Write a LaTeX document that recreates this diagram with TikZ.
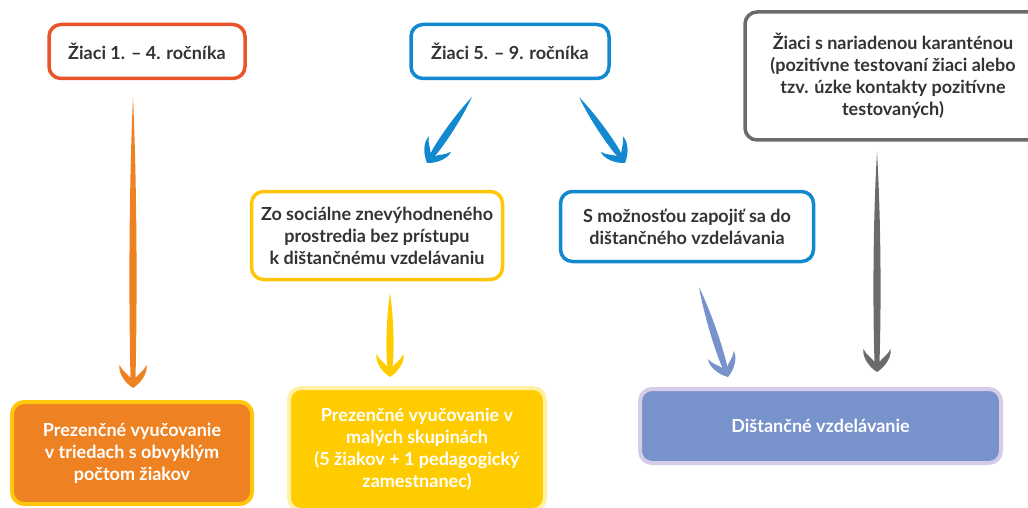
\documentclass[tikz,border=0pt]{standalone}
\usepackage{fontspec}
\setmainfont{Lato}
\usetikzlibrary{calc}

\definecolor{redorange}{HTML}{E9542B}
\definecolor{skyblue}{HTML}{1289CF}
\definecolor{darkgray}{HTML}{6B6B6B}
\definecolor{sunyellow}{HTML}{FFC60B}
\definecolor{fillorange}{HTML}{EE8222}
\definecolor{fillyellow}{HTML}{FFCC00}
\definecolor{paleyellow}{HTML}{FFF0A6}
\definecolor{fillblue}{HTML}{7892CB}
\definecolor{lavender}{HTML}{D5CDE8}
\definecolor{textgray}{HTML}{333333}

\tikzset{
  box/.style={rounded corners=12pt,line width=3.5pt,align=center,inner sep=0pt,
    font=\bfseries\fontsize{18}{22}\selectfont},
  outline/.style={box,fill=white,text=textgray},
  filled/.style={box,text=white,line width=4pt}
}

% brush arrow: colour, from, to
\newcommand{\brusharrow}[3]{%
  \path (#2); \pgfgetlastxy{\brXa}{\brYa}
  \path (#3); \pgfgetlastxy{\brXb}{\brYb}
  \pgfmathsetmacro\brAng{atan2(\brYb-\brYa,\brXb-\brXa)}
  \pgfmathsetmacro\brL{veclen(\brXb-\brXa,\brYb-\brYa)}
  \fill[#1,shift={(#2)},rotate=\brAng,x=1pt,y=1pt]
    (0,0) .. controls ({0.35*\brL},4.5) and ({0.75*\brL},4) .. ({\brL-10},2.5)
    .. controls ({\brL-14},5) and ({\brL-17},11) .. ({\brL-23},13.5)
    .. controls ({\brL-15},15) and ({\brL-5},8) .. (\brL,0)
    .. controls ({\brL-5},-8) and ({\brL-15},-15) .. ({\brL-23},-13.5)
    .. controls ({\brL-17},-11) and ({\brL-14},-5) .. ({\brL-10},-2.5)
    .. controls ({0.75*\brL},-4) and ({0.35*\brL},-4.5) .. (0,0) -- cycle;
}

\begin{document}
\begin{tikzpicture}[x=1pt,y=-1pt]
\useasboundingbox (0,0) rectangle (1028,508);
\clip (0,0) rectangle (1028,508);

% top row
\node[outline,draw=redorange,minimum width=196pt,minimum height=54pt] (g14) at (147,51.5) {Žiaci 1. – 4. ročníka};
\node[outline,draw=skyblue,minimum width=198pt,minimum height=54pt] (g59) at (510,51.5) {Žiaci 5. – 9. ročníka};
\node[outline,draw=darkgray,minimum width=296pt,minimum height=128pt] (quar) at (893,76)
  {Žiaci s nariadenou karanténou\\(pozitívne testovaní žiaci alebo\\tzv. úzke kontakty pozitívne\\testovaných)};

% middle row
\node[outline,draw=sunyellow,minimum width=251pt,minimum height=88pt] (social) at (377,235.5)
  {Zo sociálne znevýhodneného\\prostredia bez prístupu\\k dištančnému vzdelávaniu};
\node[outline,draw=skyblue,minimum width=253pt,minimum height=70pt] (option) at (687,226.5)
  {S možnosťou zapojiť sa do\\dištančného vzdelávania};

% bottom row
\node[filled,fill=fillorange,draw=sunyellow,minimum width=240pt,minimum height=102pt] (normal) at (132,453)
  {Prezenčné vyučovanie\\v triedach s obvyklým\\počtom žiakov};
\node[filled,fill=fillyellow,draw=paleyellow,minimum width=256pt,minimum height=122pt] (small) at (417,449)
  {Prezenčné vyučovanie v\\malých skupinách\\(5 žiakov + 1 pedagogický\\zamestnanec)};
\node[filled,fill=fillblue,draw=lavender,minimum width=361pt,minimum height=74pt] (remote) at (820.5,426)
  {Dištančné vzdelávanie};

% arrow ends
\coordinate (o1) at (133,97);   \coordinate (o2) at (133,388);
\coordinate (b1) at (472,97);   \coordinate (b2) at (427,163);
\coordinate (b3) at (579,97);   \coordinate (b4) at (625,163);
\coordinate (y1) at (390,293);  \coordinate (y2) at (390,377);
\coordinate (l1) at (699,287);  \coordinate (l2) at (728,377);
\coordinate (d1) at (877,152);  \coordinate (d2) at (877,372);

\brusharrow{fillorange}{o1}{o2}
\brusharrow{skyblue}{b1}{b2}
\brusharrow{skyblue}{b3}{b4}
\brusharrow{fillyellow}{y1}{y2}
\brusharrow{fillblue}{l1}{l2}
\brusharrow{darkgray}{d1}{d2}
\end{tikzpicture}
\end{document}
